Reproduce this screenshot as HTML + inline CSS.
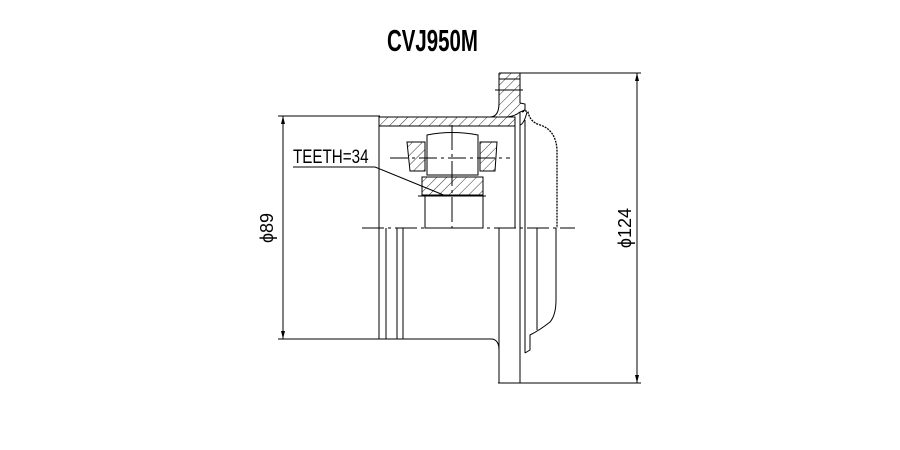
<!DOCTYPE html>
<html><head><style>body{margin:0;background:#fff}svg{display:block}</style></head>
<body>
<svg width="900" height="450" viewBox="0 0 900 450" xmlns="http://www.w3.org/2000/svg">
<defs>
<pattern id="h" width="7" height="7" patternUnits="userSpaceOnUse" patternTransform="rotate(45)">
<line x1="0" y1="0" x2="0" y2="7" stroke="#000" stroke-width="0.8"/>
</pattern>
</defs>
<text x="0" y="51" transform="translate(387,0) scale(0.66,1)" font-family="Liberation Sans, sans-serif" font-size="31" font-weight="bold">CVJ950M</text>
<g fill="none" stroke="#000" stroke-width="1">
<!-- dims -->
<line x1="278" y1="116" x2="380" y2="116"/>
<line x1="278" y1="339" x2="380" y2="339"/>
<line x1="283" y1="116" x2="283" y2="339"/>
<line x1="515" y1="73" x2="641" y2="73"/>
<line x1="498" y1="383" x2="641" y2="383"/>
<line x1="637" y1="73" x2="637" y2="383"/>
<!-- housing top band -->
<rect x="379" y="117" width="136" height="9" fill="url(#h)"/>
<path d="M499 73 H520 V103 L525 104 V110 L520 112 Q514 117 505 117 L499 117" fill="url(#h)"/>
<line x1="499" y1="73" x2="499" y2="103"/>
<line x1="499" y1="79" x2="520" y2="79"/>
<line x1="495" y1="90" x2="523" y2="90"/>
<path d="M499 103 Q499 117 490 117"/>
<!-- verticals -->
<line x1="379" y1="117" x2="379" y2="339"/>
<line x1="386" y1="228" x2="386" y2="339"/>
<line x1="397" y1="228" x2="397" y2="339"/>
<line x1="403" y1="228" x2="403" y2="339"/>
<line x1="515" y1="117" x2="515" y2="228"/>
<line x1="520" y1="112" x2="520" y2="383"/>
<line x1="525" y1="120" x2="525" y2="353"/>
<line x1="537" y1="228" x2="537" y2="330"/>
<line x1="499" y1="228" x2="499" y2="383"/>
<path d="M379 339 H492 Q499 340 499 350"/>
<path d="M525 353 L530 350 V335 Q540 330 550 322 Q556 315 556 300 V228"/>
<!-- boot -->
<path d="M522 112 Q526 110 528 112 Q530 122 540 125 Q556 130 557 150 V228" stroke-dasharray="2 1" stroke-width="1.3"/>
<path d="M520 125 Q524 124 527 112"/>
<!-- centerline -->
<line x1="362" y1="228" x2="575" y2="228" stroke-dasharray="22 4 3 4"/>
<line x1="390" y1="158" x2="510" y2="158" stroke-dasharray="18 4 3 4"/>
<line x1="452" y1="125" x2="452" y2="228" stroke-dasharray="25 4 3 4"/>
<!-- roller -->
<path d="M427 135 Q452 130 478 135 V175 H427 Z"/>
<path d="M407 142 H425 V171 H410 Z" fill="url(#h)"/>
<path d="M480 142 H497 L495 171 H480 Z" fill="url(#h)"/>
<rect x="422" y="177" width="61" height="18" fill="url(#h)"/>
<rect x="425" y="195" width="58" height="33"/>
<line x1="418" y1="196" x2="486" y2="196"/>
<!-- teeth leader -->
<line x1="293" y1="167" x2="375" y2="167"/>
<line x1="375" y1="167" x2="446" y2="196"/>
</g>
<path d="M283 116 l-2 8 h4 z M283 339 l-2 -8 h4 z M637 73 l-2 8 h4 z M637 383 l-2 -8 h4 z" fill="#000"/>
<text x="293" y="163" transform="translate(293,0) scale(0.8,1) translate(-293,0)" font-family="Liberation Sans, sans-serif" font-size="19">TEETH=34</text>
<text transform="translate(273,228) rotate(-90)" text-anchor="middle" font-family="Liberation Sans, sans-serif" font-size="18">ϕ89</text>
<text transform="translate(631,228) rotate(-90)" text-anchor="middle" font-family="Liberation Sans, sans-serif" font-size="18">ϕ124</text>
</svg>
</body></html>
